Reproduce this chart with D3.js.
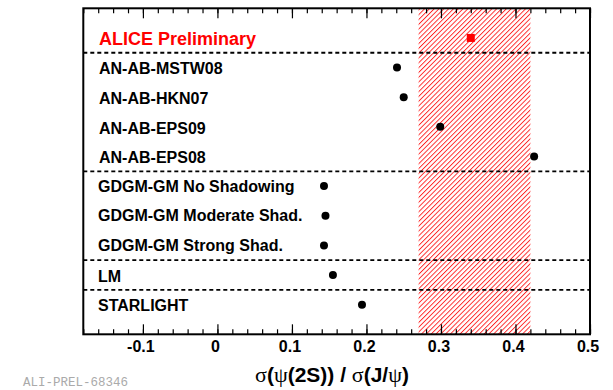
<!DOCTYPE html>
<html><head><meta charset="utf-8">
<script src="https://cdn.jsdelivr.net/npm/d3@7"></script>
<style>body{margin:0;background:#fff}svg{display:block}</style>
</head><body>
<script>
// ---- data ----
const models = ["AN-AB-MSTW08","AN-AB-HKN07","AN-AB-EPS09","AN-AB-EPS08",
  "GDGM-GM No Shadowing","GDGM-GM Moderate Shad.","GDGM-GM Strong Shad.","LM","STARLIGHT"];
const modelValues = [0.241, 0.250, 0.299, 0.425, 0.143, 0.145, 0.143, 0.155, 0.194];
const measLabel = "ALICE Preliminary";
const measValue = [0.340];
const measBand = [0.270, 0.420];
const separators = [0.5, 4.5, 7.5, 8.5];
const xTicks = [-0.1, 0, 0.1, 0.2, 0.3, 0.4, 0.5];
const xTickLabels = ["-0.1", "0", "0.1", "0.2", "0.3", "0.4", "0.5"];
const xDomain = [-0.18, 0.5];

const W = 613, H = 390;
const L = 83.3, R = 590, T = 8.3, B = 334.3;
const svg = d3.select("body").append("svg").attr("width", W).attr("height", H);

const x = d3.scaleLinear().domain(xDomain).range([L, R]);
const y = d3.scaleLinear().domain([-1, 10]).range([T, B]);

const defs = svg.append("defs");
const pat = defs.append("pattern").attr("id","hatch").attr("patternUnits","userSpaceOnUse")
  .attr("width", 3.4).attr("height", 3.4).attr("patternTransform","rotate(45)");
pat.append("line").attr("x1",0.5).attr("y1",0).attr("x2",0.5).attr("y2",3.4)
  .attr("stroke","#ff0000").attr("stroke-width",0.8);

// hatched band
svg.append("rect").attr("x", x(measBand[0])).attr("y", T)
  .attr("width", x(measBand[1]) - x(measBand[0])).attr("height", B - T)
  .attr("fill","url(#hatch)");

// separators
svg.selectAll("line.sep").data(separators).join("line").attr("class","sep")
  .attr("x1", L).attr("x2", R).attr("y1", d => y(d)).attr("y2", d => y(d))
  .attr("stroke","#000").attr("stroke-width",1.8).attr("stroke-dasharray","4,3");

// axes ticks (inward), top and bottom
const minor = d3.range(-0.18, 0.5001, 0.02).map(v => +v.toFixed(2));
const axB = d3.axisBottom(x).tickValues(minor).tickSize(-5).tickFormat("");
const axT = d3.axisTop(x).tickValues(minor).tickSize(-5).tickFormat("");
const majB = d3.axisBottom(x).tickValues(xTicks).tickSize(-10).tickFormat("");
const majT = d3.axisTop(x).tickValues(xTicks).tickSize(-10).tickFormat("");
[[axB,B],[majB,B],[axT,T],[majT,T]].forEach(([a,yy]) => {
  const g = svg.append("g").attr("transform",`translate(0,${yy})`).call(a);
  g.select(".domain").remove();
  g.selectAll("line").attr("stroke","#000").attr("stroke-width",1.2);
});

// frame
svg.append("rect").attr("x",L).attr("y",T).attr("width",R-L).attr("height",B-T)
  .attr("fill","none").attr("stroke","#000").attr("stroke-width",2);

// tick labels
svg.selectAll("text.tl").data(xTicks).join("text").attr("class","tl")
  .attr("x", d => x(d) - 2).attr("y", 352)
  .attr("text-anchor","middle").attr("font-family","Liberation Sans, Arial, sans-serif")
  .attr("font-weight","bold").attr("font-size",16).attr("fill","#000")
  .text((d,i) => xTickLabels[i]);

// labels
const font = "Liberation Sans, Arial, sans-serif";
svg.append("text").attr("x", 99).attr("y", y(0) + 7).attr("font-family", font)
  .attr("font-weight","bold").attr("font-size",18).attr("fill","#ff0000").text(measLabel);
svg.selectAll("text.lab").data(models).join("text").attr("class","lab")
  .attr("x", (d,i) => i >= 4 ? 98 : 99).attr("y", (d,i) => y(i+1) + (i>=4 && i<7 ? 5.5 : 6.8))
  .attr("font-family", font).attr("font-weight","bold").attr("font-size",16).attr("fill","#000")
  .text(d => d);

// points
svg.selectAll("circle.pt").data(modelValues).join("circle").attr("class","pt")
  .attr("cx", d => x(d)).attr("cy", (d,i) => y(i+1)).attr("r", 4).attr("fill","#000");
svg.selectAll("rect.meas").data(measValue).join("rect").attr("class","meas")
  .attr("x", d => x(d) - 4).attr("y", y(0) - 4).attr("width", 8).attr("height", 8).attr("fill","#ff0000");

// axis title
const t = svg.append("text").attr("x", 332).attr("y", 382).attr("text-anchor","middle")
  .attr("font-size",21).attr("fill","#000");
const parts = [["σ",1],["(",0],["ψ",1],["(2S)) / ",0],["σ",1],["(J/",0],["ψ",1],[")",0]];
parts.forEach(([s,g]) => {
  t.append("tspan").attr("font-family", g ? "Liberation Serif, serif" : font)
   .attr("font-weight", g ? "normal" : "bold").attr("font-size", g ? 22 : 21).text(s);
});

// watermark
svg.append("text").attr("x", 23).attr("y", 385.5).attr("font-family","Liberation Mono, monospace")
  .attr("font-size",12.5).attr("fill","#aaaaaa").text("ALI-PREL-68346");
</script>
</body></html>
